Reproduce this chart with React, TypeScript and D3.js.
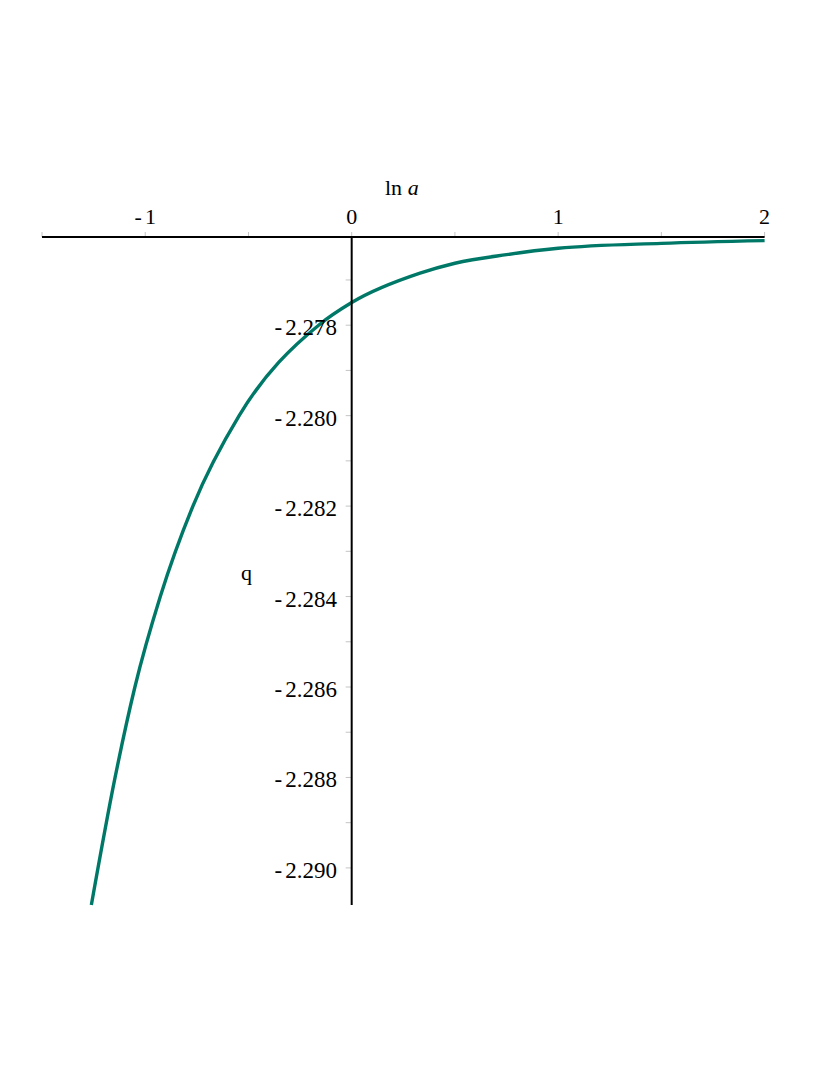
import React from "react"
import { scaleLinear, line, curveMonotoneX } from "d3"

// values
const lnA = [-1.261, -1.146, -1.05, -0.927, -0.769, -0.545, -0.16, 0, 0.331, 0.5, 0.75, 1.0, 1.5, 2.0]
const qValues = [-2.29082, -2.288, -2.286, -2.284, -2.282, -2.28, -2.278, -2.2775, -2.27685, -2.27663, -2.27644, -2.2763, -2.27619, -2.27613]

const xTicks = [-1, 0, 1, 2]
const xTickLabels = ["-1", "0", "1", "2"]
const xMinorTicks = [-1.5, -0.5, 0.5, 1.5]
const yTicks = [-2.278, -2.28, -2.282, -2.284, -2.286, -2.288, -2.29]
const yTickLabels = ["-2.278", "-2.280", "-2.282", "-2.284", "-2.286", "-2.288", "-2.290"]
const yMinorTicks = [-2.277, -2.279, -2.281, -2.283, -2.285, -2.287, -2.289]

const FONT = "'Liberation Serif', 'Times New Roman', serif"

function Label({ text, x, y, anchor, size }) {
  // Maple style minus: short dash then a little gap
  if (text.startsWith("-")) {
    return (
      <text x={x} y={y} textAnchor={anchor} fontFamily={FONT} fontSize={size} fill="#000">
        <tspan>-</tspan>
        <tspan dx={3}>{text.slice(1)}</tspan>
      </text>
    )
  }
  return (
    <text x={x} y={y} textAnchor={anchor} fontFamily={FONT} fontSize={size} fill="#000">
      {text}
    </text>
  )
}

export default function App() {
  const width = 830
  const height = 1075

  const x = scaleLinear().domain([-1.5, 2]).range([42, 764.6])
  const y = scaleLinear().domain([-2.29082, -2.27605]).range([905, 237])

  const pts = lnA.map((v, i) => [v, qValues[i]])
  const path = line()
    .x(d => x(d[0]))
    .y(d => y(d[1]))
    .curve(curveMonotoneX)(pts)

  const axisY = y(-2.27605)
  const axisX = x(0)

  return (
    <svg width={width} height={height} style={{ position: "absolute", left: 0, top: 0, background: "#fff" }}>
      {/* x ticks */}
      {xTicks.concat(xMinorTicks).map((t, i) => (
        <line key={"xt" + i} x1={x(t)} x2={x(t)} y1={axisY - 5} y2={axisY} stroke="#c4c4c4" strokeWidth={1} />
      ))}
      {/* y ticks */}
      {yTicks.concat(yMinorTicks).map((t, i) => (
        <line key={"yt" + i} x1={axisX - 6} x2={axisX} y1={y(t)} y2={y(t)} stroke="#c4c4c4" strokeWidth={1} />
      ))}

      <path d={path} fill="none" stroke="#007868" strokeWidth={3.4} />

      {/* axes */}
      <line x1={x(-1.5)} x2={x(2)} y1={axisY} y2={axisY} stroke="#000" strokeWidth={2} />
      <line x1={axisX} x2={axisX} y1={axisY} y2={905} stroke="#000" strokeWidth={2} />

      {xTicks.map((t, i) => (
        <Label key={"xl" + i} text={xTickLabels[i]} x={x(t)} y={224} anchor="middle" size={22} />
      ))}
      {yTicks.map((t, i) => (
        <Label key={"yl" + i} text={yTickLabels[i]} x={337} y={y(t) + 10} anchor="end" size={23} />
      ))}

      <text x={385} y={195} fontFamily={FONT} fontSize={22} fill="#000">
        ln <tspan fontStyle="italic">a</tspan>
      </text>
      <text x={241} y={580} fontFamily={FONT} fontSize={22} fill="#000">q</text>
    </svg>
  )
}
